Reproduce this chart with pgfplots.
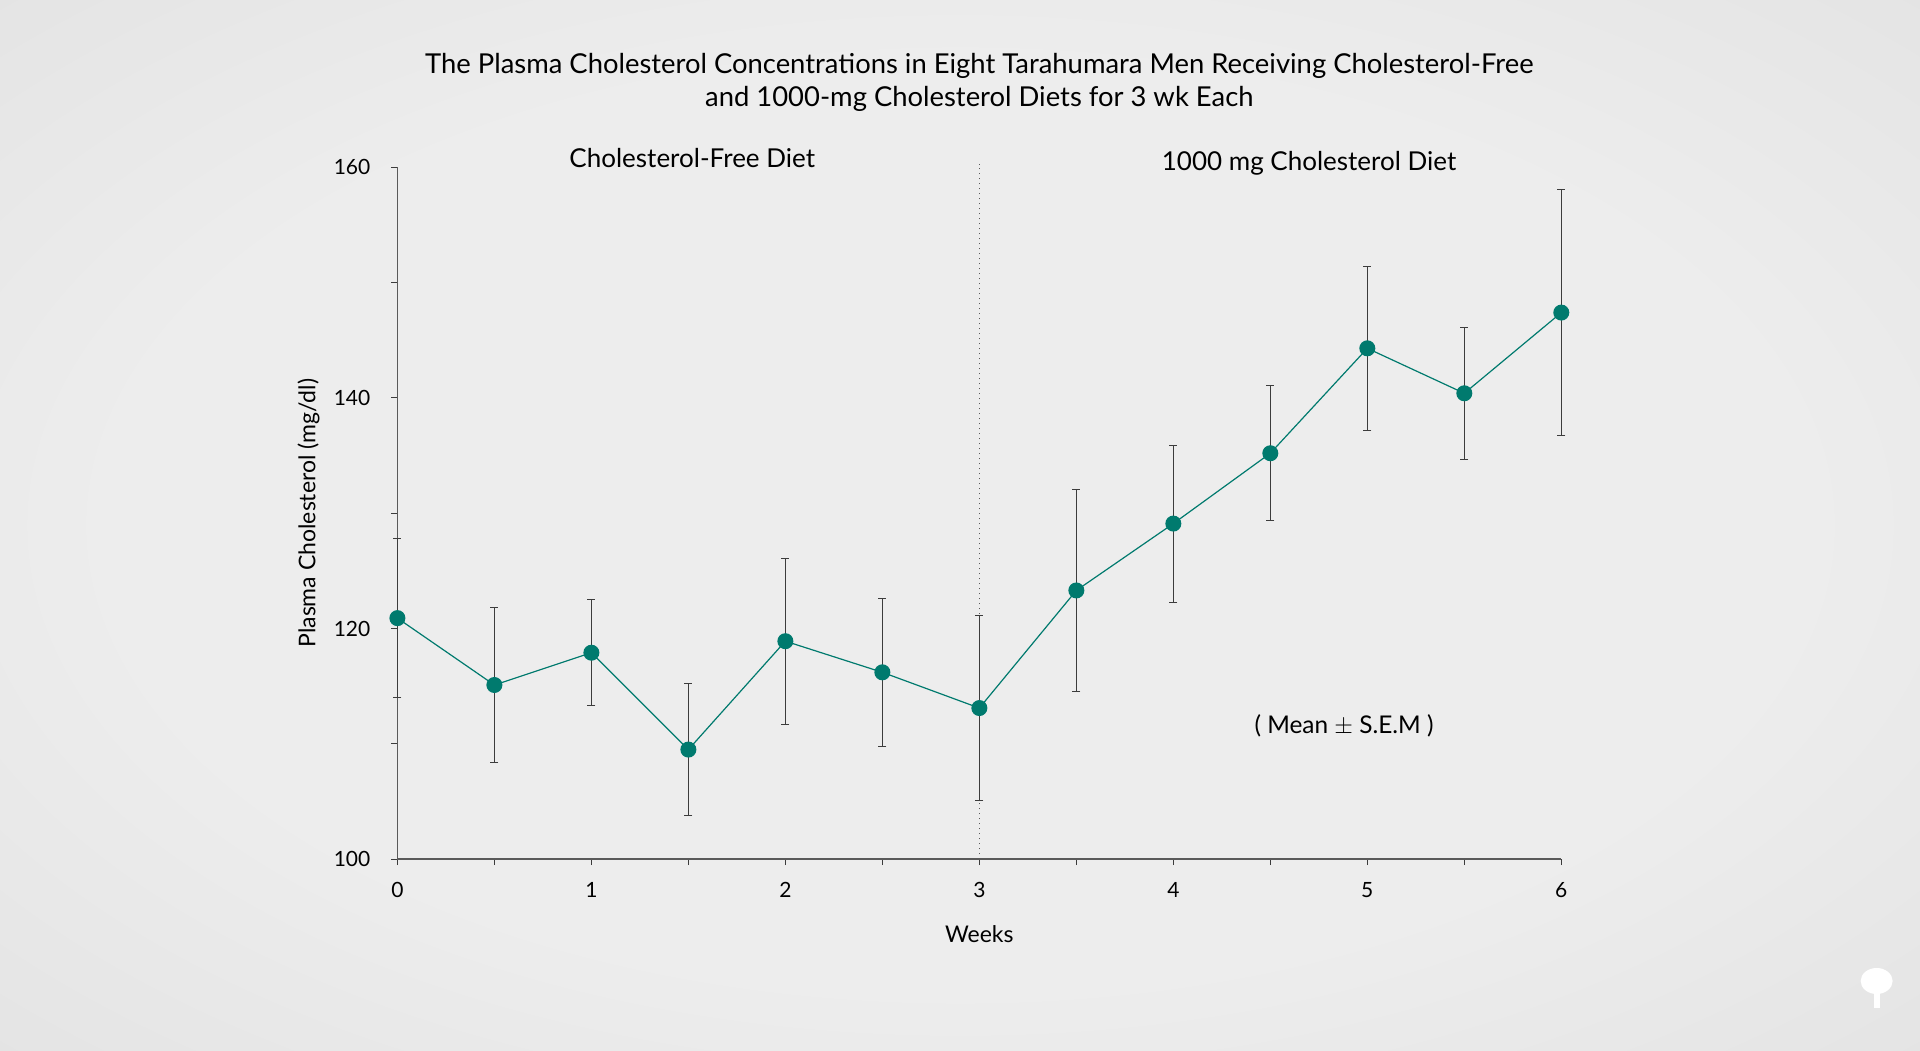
\documentclass[border=0pt]{standalone}
\usepackage{pgfplots}
\pgfplotsset{compat=1.18}
\usepackage{fontspec}
\setmainfont{Lato}
\definecolor{bgin}{RGB}{237,237,237}
\definecolor{bgmid}{RGB}{222,222,222}
\definecolor{bgout}{RGB}{192,192,192}
\definecolor{teal1}{RGB}{0,122,110}
\definecolor{axisgray}{RGB}{90,90,90}
\definecolor{errgray}{RGB}{60,60,60}
\pgfdeclareradialshading{vignette}{\pgfpoint{0bp}{0bp}}{color(0bp)=(bgin); color(22bp)=(bgin); color(45bp)=(bgmid); color(71bp)=(bgout)}
\begin{document}
\begin{tikzpicture}
\useasboundingbox (0,0) rectangle (960pt,525pt);
\fill[shading=vignette] (0,0) rectangle (960pt,525pt);
% logo
\fill[white] (938.3pt,34.5pt) ellipse (8pt and 6.5pt);
\fill[white] (936.8pt,21pt) rectangle (939.8pt,29pt);
\begin{axis}[
  at={(198.7pt,95.45pt)}, anchor=south west,
  scale only axis, width=581.95pt, height=345.9pt,
  xmin=0, xmax=6, ymin=100, ymax=160,
  axis lines=left,
  axis line style={-, draw=axisgray, line width=0.9pt},
  xtick={0,1,2,3,4,5,6},
  minor xtick={0.5,1.5,2.5,3.5,4.5,5.5},
  ytick={100,120,140,160},
  minor ytick={110,130,150},
  tick align=outside,
  major tick length=3pt, minor tick length=3pt,
  tick style={draw=errgray, line width=0.5pt},
  /pgf/number format/assume math mode=true,
  ticklabel style={font=\fontsize{10.5}{12}\selectfont, text=black},
  xticklabel style={yshift=-5pt},
  yticklabel style={xshift=-7pt},
  every axis y label/.style={at={(axis description cs:-0.0763,0.5)}, rotate=90, anchor=center, font=\fontsize{11.5}{13}\selectfont},
  every axis x label/.style={at={(axis description cs:0.5,-0.1087)}, anchor=center, font=\fontsize{11.5}{13}\selectfont},
  every axis title/.style={at={(axis description cs:0.5,1.1223)}, anchor=center, align=center, font=\fontsize{13.7}{16.6}\selectfont},
  xlabel={Weeks},
  ylabel={Plasma Cholesterol (mg/dl)},
  title={The Plasma Cholesterol Concentrations in Eight Tarahumara Men Receiving Cholesterol-Free\\and 1000-mg Cholesterol Diets for 3 wk Each},
  clip=false,
]
\addplot[draw=gray!70!black, dotted, line width=0.5pt] coordinates {(3,100) (3,160.3)};
\addplot[
  color=teal1, line width=0.6pt,
  mark=*, mark size=3.7pt, mark options={fill=teal1, draw=teal1},
  error bars/.cd, y dir=both, y explicit,
  error bar style={draw=errgray, line width=0.45pt},
  error mark options={rotate=90, mark size=2pt, draw=errgray, line width=0.45pt},
] table[x=x, y=y, y error=e] {
x   y     e
0   120.9 6.9
0.5 115.1 6.7
1   117.9 4.6
1.5 109.5 5.7
2   118.9 7.2
2.5 116.2 6.45
3   113.1 8.0
3.5 123.3 8.8
4   129.1 6.8
4.5 135.2 5.85
5   144.3 7.1
5.5 140.4 5.7
6   147.4 10.65
};
\node[font=\fontsize{13}{15}\selectfont] at (axis cs:1.52,160.8) {Cholesterol-Free Diet};
\node[font=\fontsize{13}{15}\selectfont] at (axis cs:4.70,160.35) {1000 mg Cholesterol Diet};
\node[font=\fontsize{12.2}{14}\selectfont] at (axis cs:4.88,111.6) {( Mean $\pm$ S.E.M )};
\end{axis}
\end{tikzpicture}
\end{document}
